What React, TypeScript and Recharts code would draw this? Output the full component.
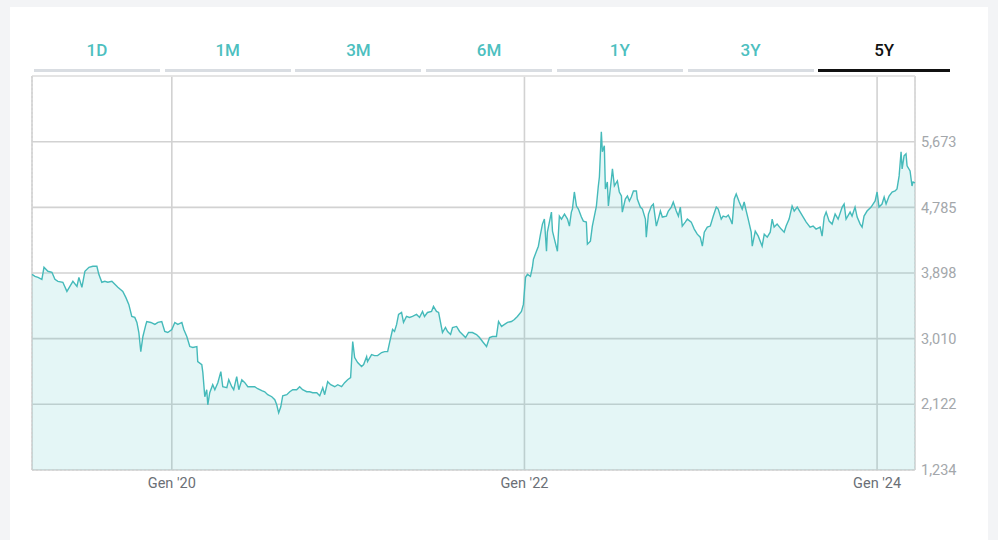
import React from 'react';
import { AreaChart, Area, XAxis, YAxis, CartesianGrid, ReferenceLine } from 'recharts';

// time as decimal years (Gen '20 / '22 / '24 gridlines)
const dates = [
  2019.207, 2019.224, 2019.241, 2019.263, 2019.275, 2019.297, 2019.320, 2019.337, 2019.354, 2019.382,
  2019.405, 2019.422, 2019.439, 2019.462, 2019.473, 2019.490, 2019.507, 2019.530, 2019.552, 2019.575,
  2019.586, 2019.603, 2019.620, 2019.637, 2019.660, 2019.677, 2019.694, 2019.722, 2019.739, 2019.756,
  2019.773, 2019.790, 2019.802, 2019.813, 2019.824, 2019.836, 2019.853, 2019.858, 2019.881, 2019.904,
  2019.921, 2019.943, 2019.960, 2019.977, 2020.000, 2020.017, 2020.034, 2020.057, 2020.068, 2020.085,
  2020.102, 2020.119, 2020.142, 2020.147, 2020.170, 2020.176, 2020.187, 2020.198, 2020.204, 2020.215,
  2020.232, 2020.244, 2020.261, 2020.278, 2020.289, 2020.312, 2020.323, 2020.340, 2020.351, 2020.368,
  2020.380, 2020.397, 2020.414, 2020.431, 2020.453, 2020.470, 2020.487, 2020.510, 2020.527, 2020.544,
  2020.567, 2020.584, 2020.595, 2020.606, 2020.618, 2020.629, 2020.652, 2020.669, 2020.686, 2020.708,
  2020.725, 2020.742, 2020.765, 2020.782, 2020.799, 2020.822, 2020.839, 2020.856, 2020.867, 2020.884,
  2020.901, 2020.924, 2020.941, 2020.963, 2020.980, 2020.997, 2021.014, 2021.026, 2021.037, 2021.054,
  2021.076, 2021.088, 2021.105, 2021.110, 2021.133, 2021.150, 2021.167, 2021.190, 2021.207, 2021.224,
  2021.235, 2021.252, 2021.263, 2021.275, 2021.286, 2021.303, 2021.314, 2021.331, 2021.348, 2021.365,
  2021.388, 2021.405, 2021.422, 2021.433, 2021.450, 2021.473, 2021.484, 2021.501, 2021.513, 2021.524,
  2021.535, 2021.552, 2021.564, 2021.581, 2021.592, 2021.615, 2021.632, 2021.649, 2021.666, 2021.683,
  2021.705, 2021.728, 2021.745, 2021.762, 2021.785, 2021.802, 2021.819, 2021.841, 2021.853, 2021.870,
  2021.887, 2021.904, 2021.926, 2021.943, 2021.960, 2021.983, 2021.994, 2022.006, 2022.017, 2022.034,
  2022.045, 2022.051, 2022.068, 2022.079, 2022.091, 2022.102, 2022.113, 2022.125, 2022.130, 2022.153,
  2022.159, 2022.170, 2022.187, 2022.198, 2022.210, 2022.227, 2022.244, 2022.255, 2022.266, 2022.272,
  2022.283, 2022.295, 2022.306, 2022.323, 2022.334, 2022.351, 2022.357, 2022.374, 2022.385, 2022.408,
  2022.419, 2022.425, 2022.436, 2022.442, 2022.453, 2022.459, 2022.470, 2022.476, 2022.493, 2022.499,
  2022.510, 2022.527, 2022.538, 2022.550, 2022.555, 2022.572, 2022.584, 2022.595, 2022.606, 2022.618,
  2022.635, 2022.640, 2022.657, 2022.669, 2022.686, 2022.691, 2022.703, 2022.720, 2022.731, 2022.748,
  2022.759, 2022.771, 2022.782, 2022.805, 2022.816, 2022.833, 2022.844, 2022.861, 2022.873, 2022.884,
  2022.895, 2022.912, 2022.924, 2022.946, 2022.963, 2022.980, 2022.997, 2023.009, 2023.020, 2023.037,
  2023.054, 2023.071, 2023.088, 2023.099, 2023.116, 2023.127, 2023.144, 2023.156, 2023.167, 2023.178,
  2023.190, 2023.201, 2023.218, 2023.235, 2023.246, 2023.258, 2023.269, 2023.286, 2023.292, 2023.309,
  2023.326, 2023.348, 2023.360, 2023.377, 2023.394, 2023.405, 2023.416, 2023.433, 2023.456, 2023.473,
  2023.484, 2023.501, 2023.518, 2023.530, 2023.547, 2023.564, 2023.581, 2023.598, 2023.620, 2023.637,
  2023.654, 2023.677, 2023.688, 2023.700, 2023.711, 2023.728, 2023.745, 2023.762, 2023.779, 2023.802,
  2023.813, 2023.824, 2023.847, 2023.858, 2023.875, 2023.887, 2023.904, 2023.915, 2023.926, 2023.943,
  2023.966, 2023.977, 2023.989, 2024.000, 2024.011, 2024.028, 2024.040, 2024.051, 2024.068, 2024.085,
  2024.102, 2024.113, 2024.125, 2024.136, 2024.142, 2024.153, 2024.164, 2024.170, 2024.187, 2024.198,
  2024.204, 2024.215,
];

const prices = [
  3880, 3853, 3839, 3812, 3975, 3921, 3907, 3812, 3785, 3772,
  3649, 3717, 3785, 3717, 3839, 3704, 3921, 3975, 3989, 3989,
  3880, 3772, 3785, 3772, 3785, 3744, 3704, 3649, 3568, 3473,
  3310, 3297, 3229, 3093, 2835, 3039, 3202, 3242, 3229, 3202,
  3229, 3242, 3107, 3093, 3134, 3229, 3202, 3229, 3134, 3039,
  2903, 2890, 2903, 2700, 2659, 2550, 2225, 2320, 2116, 2279,
  2387, 2320, 2415, 2564, 2360, 2347, 2455, 2360, 2320, 2496,
  2320, 2455, 2415, 2360, 2360, 2360, 2333, 2306, 2292, 2252,
  2225, 2184, 2116, 2007, 2089, 2238, 2252, 2292, 2320, 2320,
  2360, 2320, 2292, 2292, 2279, 2279, 2238, 2347, 2252, 2428,
  2387, 2360, 2387, 2360, 2415, 2455, 2482, 2971, 2754, 2686,
  2632, 2659, 2767, 2700, 2795, 2781, 2781, 2822, 2835, 2835,
  2957, 3134, 3107, 3202, 3337, 3364, 3229, 3310, 3297, 3310,
  3337, 3297, 3378, 3310, 3364, 3378, 3446, 3378, 3364, 3229,
  3093, 3161, 3107, 3066, 3161, 3175, 3107, 3066, 3025, 3093,
  3093, 3066, 3025, 2971, 2903, 3025, 3039, 3039, 3242, 3175,
  3202, 3229, 3242, 3269, 3310, 3378, 3473, 3839, 3880, 3853,
  3975, 4084, 4192, 4260, 4423, 4559, 4626, 4192, 4450, 4721,
  4464, 4355, 4192, 4667, 4626, 4694, 4626, 4532, 4721, 4762,
  4993, 4803, 4762, 4654, 4599, 4586, 4287, 4328, 4532, 4803,
  5074, 5196, 5807, 5536, 5617, 5034, 5129, 4803, 5169, 5305,
  5074, 5142, 4993, 4939, 4721, 4898, 4939, 4871, 4925, 5006,
  5006, 4898, 4789, 4762, 4626, 4382, 4694, 4803, 4830, 4532,
  4626, 4735, 4654, 4667, 4735, 4789, 4857, 4735, 4667, 4789,
  4532, 4586, 4626, 4586, 4491, 4423, 4382, 4260, 4450, 4518,
  4532, 4667, 4789, 4762, 4626, 4667, 4654, 4681, 4626, 4559,
  4898, 4966, 4857, 4762, 4857, 4735, 4626, 4450, 4260, 4464,
  4396, 4260, 4423, 4382, 4450, 4626, 4518, 4559, 4491, 4450,
  4532, 4626, 4803, 4735, 4789, 4721, 4654, 4586, 4518, 4532,
  4491, 4518, 4396, 4654, 4721, 4599, 4559, 4694, 4626, 4789,
  4830, 4626, 4721, 4667, 4789, 4654, 4559, 4518, 4667, 4735,
  4789, 4830, 4871, 4993, 4789, 4830, 4925, 4830, 4939, 4993,
  5006, 5034, 5210, 5536, 5305, 5481, 5509, 5346, 5278, 5074,
  5129, 5115,
];

const tabs = ['1D', '1M', '3M', '6M', '1Y', '3Y', '5Y'];
const activeTab = '5Y';

const yTicks = [1234, 2122, 3010, 3898, 4785, 5673];
const yTop = 6561;
const xTicks = [2020, 2022, 2024];

const TEAL = '#45baba';
const FONT = 'Roboto, "Noto Sans", sans-serif';

const data = dates.map((t, i) => ({ t, price: prices[i] }));

const fmtPrice = (v: number) => v.toLocaleString('en-US');
const fmtYear = (v: number) => `Gen '${String(v).slice(2, 4)}`;

const App: React.FC = () => {
  return (
    <div style={{ position: 'absolute', left: 0, top: 0, width: 998, height: 540, background: '#f3f4f6', overflow: 'hidden', fontFamily: FONT }}>
      <div style={{ position: 'absolute', left: 10, top: 7, width: 978, height: 540, background: '#ffffff' }} />

      {tabs.map((tab, i) => {
        const active = tab === activeTab;
        const left = 34 + i * 130.7;
        const width = active ? 132 : 126;
        return (
          <div key={tab} style={{ position: 'absolute', left, top: 36, width, height: 36 }}>
            <div style={{ height: 26, lineHeight: '26px', marginTop: 1, textAlign: 'center', fontSize: 17, fontWeight: 500, color: active ? '#111111' : '#4dbfbf' }}>
              {tab}
            </div>
            <div style={{ position: 'absolute', left: 0, top: 33, width: '100%', height: 3, background: active ? '#111111' : '#d9dde2' }} />
          </div>
        );
      })}

      <div style={{ position: 'absolute', left: 0, top: 0 }}>
        <AreaChart width={998} height={540} data={data} margin={{ top: 76, right: 23, bottom: 40, left: 32 }}>
          <CartesianGrid stroke="#d2d2d2" strokeWidth={1.6} />
          <XAxis
            dataKey="t"
            type="number"
            domain={['dataMin', 'dataMax']}
            ticks={xTicks}
            tickFormatter={fmtYear}
            height={30}
            tickLine={false}
            tickSize={4}
            tickMargin={4}
            axisLine={{ stroke: '#cfcfcf', strokeDasharray: '2 2' }}
            tick={{ fill: '#6b6f76', fontSize: 14.5, fontFamily: FONT }}
          />
          <YAxis
            orientation="right"
            domain={[yTicks[0], yTop]}
            ticks={yTicks}
            tickFormatter={fmtPrice}
            width={60}
            tickLine={false}
            tickSize={4}
            tickMargin={2}
            axisLine={{ stroke: '#d8d8d8', strokeDasharray: '2 2' }}
            tick={{ fill: '#a3a7ab', fontSize: 14.5, fontFamily: FONT, textAnchor: 'start' }}
            interval={0}
          />
          <ReferenceLine y={yTop} stroke="#e6e6e6" strokeWidth={1.5} />
          <ReferenceLine x={dates[0]} stroke="#d0d0d0" strokeDasharray="2 2" />
          <Area
            type="linear"
            dataKey="price"
            stroke={TEAL}
            strokeWidth={1.4}
            fill="#4cc3c3"
            fillOpacity={0.15}
            dot={false}
            activeDot={false}
            isAnimationActive={false}
          />
        </AreaChart>
      </div>
    </div>
  );
};

export default App;
